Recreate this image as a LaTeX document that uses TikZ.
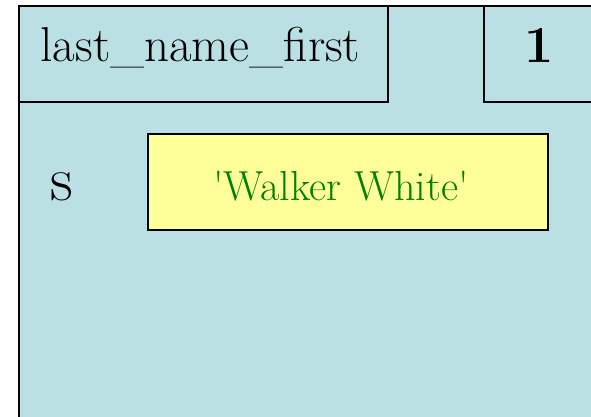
\documentclass[tikz,border=0pt]{standalone}
\usepackage{tikz}
\definecolor{framebg}{RGB}{186,224,227}
\definecolor{valbg}{RGB}{255,255,153}
\definecolor{valtxt}{RGB}{0,128,0}
\tikzset{
  framebox/.style={draw=black, line width=1.6pt, fill=framebg, inner sep=0pt, anchor=north west},
  headbox/.style={draw=black, line width=1.6pt, fill=framebg, inner sep=0pt, anchor=north west},
  valbox/.style={draw=black, line width=1.6pt, fill=valbg, inner sep=0pt, anchor=north west},
  lbl/.style={inner sep=0pt, anchor=base}
}
\begin{document}
\begin{tikzpicture}[x=1pt,y=-1pt]
\useasboundingbox (0,0) rectangle (591,417);
\clip (0,0) rectangle (591,417);
\node[framebox, minimum width=620pt, minimum height=450pt] (frame) at (18,5) {};
\node[headbox, minimum width=369pt, minimum height=96pt] (head) at (18,5) {};
\node[headbox, minimum width=130pt, minimum height=96pt] (num) at (483,5) {};
\node[valbox, minimum width=400pt, minimum height=96pt] (val) at (147,133) {};
\node[lbl, font=\fontsize{49}{55}\selectfont] (name) at (200.5,62) {last\_name\_first};
\node[lbl, font=\fontsize{52}{58}\selectfont\bfseries] (one) at (539,63) {1};
\node[lbl, font=\fontsize{63}{70}\selectfont] (s) at (62,200) {s};
\node[lbl, font=\fontsize{42}{48}\selectfont, text=valtxt] (str) at (341,200) {\textquotesingle Walker White\textquotesingle};
\end{tikzpicture}
\end{document}
